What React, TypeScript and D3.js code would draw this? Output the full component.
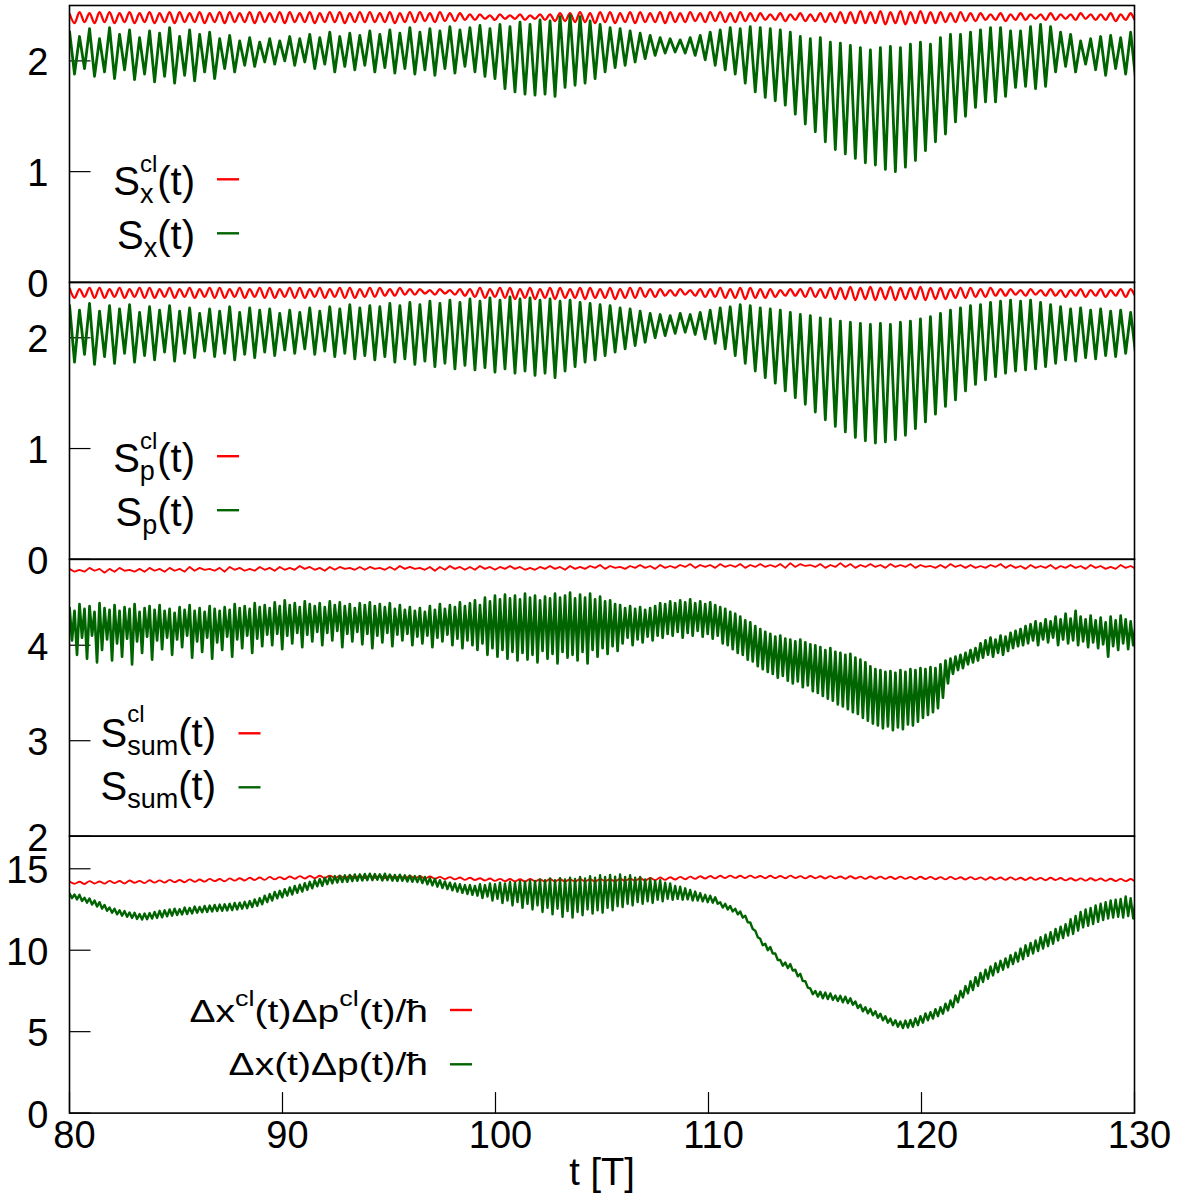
import React from "react";
import * as d3 from "d3";

// ---------------- data ----------------
const T_START = 80;
const PERIOD_SINGLE = 0.47; // oscillation period of S_x, S_p and the classical curves [T]
const PERIOD_DOUBLE = 0.235; // S_sum and Δx·Δp oscillate at twice that frequency

const xTicks = [80, 90, 100, 110, 120, 130];
const yTicksSx = [0, 1, 2];
const yTicksSp = [0, 1, 2];
const yTicksSum = [2, 3, 4];
const yTicksProd = [0, 5, 10, 15];

// Panel 1: S_x(t) maxima / minima of each oscillation
const sxPeaks = [
  2.27, 2.22, 2.29, 2.2, 2.3, 2.24, 2.28, 2.21, 2.27, 2.25,
  2.3, 2.22, 2.28, 2.24, 2.26, 2.2, 2.23, 2.18, 2.21, 2.17,
  2.2, 2.18, 2.22, 2.2, 2.24, 2.21, 2.26, 2.22, 2.25, 2.23,
  2.27, 2.24, 2.28, 2.25, 2.3, 2.26, 2.29, 2.27, 2.31, 2.28,
  2.3, 2.32, 2.29, 2.33, 2.31, 2.35, 2.33, 2.37, 2.36, 2.4,
  2.41, 2.4, 2.36, 2.33, 2.3, 2.29, 2.27, 2.25, 2.23, 2.21,
  2.2, 2.19, 2.21, 2.23, 2.26, 2.28, 2.3, 2.29, 2.31, 2.3,
  2.29, 2.28, 2.26, 2.22, 2.2, 2.21, 2.17, 2.16, 2.14, 2.12,
  2.1, 2.12, 2.13, 2.12, 2.15, 2.17, 2.15, 2.21, 2.24, 2.24,
  2.26, 2.28, 2.3, 2.3, 2.27, 2.27, 2.31, 2.33, 2.31, 2.26,
  2.24, 2.18, 2.2, 2.22, 2.23, 2.21, 2.26, 2.24,
];
const sxTroughs = [
  1.88, 1.93, 1.86, 1.9, 1.84, 1.92, 1.83, 1.88, 1.81, 1.86,
  1.8, 1.87, 1.82, 1.9, 1.84, 1.93, 1.9, 1.96, 1.95, 1.99,
  1.97, 2.0, 1.96, 1.99, 1.93, 1.97, 1.9, 1.95, 1.92, 1.96,
  1.9, 1.94, 1.89, 1.93, 1.88, 1.92, 1.87, 1.93, 1.89, 1.95,
  1.9, 1.86, 1.84, 1.75, 1.72, 1.7, 1.69, 1.7, 1.68, 1.76,
  1.78, 1.8, 1.84, 1.9, 1.94, 1.96, 1.99, 2.02, 2.05, 2.07,
  2.08, 2.07, 2.05, 2.01, 1.96, 1.92, 1.88, 1.8, 1.72, 1.67,
  1.64, 1.6, 1.52, 1.43, 1.36, 1.27, 1.2, 1.16, 1.12, 1.08,
  1.06, 1.02, 1.0, 1.04, 1.1, 1.19, 1.27, 1.34, 1.45, 1.5,
  1.58, 1.63, 1.63, 1.68, 1.76, 1.77, 1.75, 1.77, 1.9, 1.95,
  1.9, 1.97, 1.92, 1.87, 1.93, 1.88, 1.83, 1.86,
];
// Panel 1: S_x^cl(t)
const sxClPeaks = [
  2.43, 2.44, 2.43, 2.44, 2.44, 2.43, 2.44, 2.43, 2.44, 2.43,
  2.44, 2.44, 2.43, 2.44, 2.43, 2.44, 2.44, 2.43, 2.44, 2.44,
  2.43, 2.44, 2.44, 2.43, 2.44, 2.43, 2.44, 2.44, 2.43, 2.44,
  2.44, 2.43, 2.44, 2.43, 2.44, 2.44, 2.43, 2.44, 2.43, 2.43,
  2.42, 2.42, 2.41, 2.42, 2.41, 2.42, 2.41, 2.42, 2.42, 2.43,
  2.43, 2.44, 2.43, 2.44, 2.44, 2.43, 2.44, 2.44, 2.43, 2.44,
  2.44, 2.43, 2.44, 2.43, 2.44, 2.44, 2.43, 2.44, 2.43, 2.43,
  2.42, 2.43, 2.42, 2.43, 2.42, 2.43, 2.43, 2.44, 2.44, 2.45,
  2.44, 2.45, 2.44, 2.45, 2.44, 2.45, 2.44, 2.44, 2.43, 2.44,
  2.43, 2.43, 2.42, 2.43, 2.42, 2.43, 2.42, 2.42, 2.43, 2.42,
  2.42, 2.43, 2.42, 2.42, 2.43, 2.42, 2.43, 2.42,
];
const sxClTroughs = [
  2.34, 2.35, 2.34, 2.35, 2.34, 2.35, 2.34, 2.35, 2.34, 2.35,
  2.34, 2.35, 2.35, 2.34, 2.35, 2.34, 2.35, 2.35, 2.34, 2.35,
  2.35, 2.34, 2.35, 2.35, 2.34, 2.35, 2.35, 2.34, 2.35, 2.35,
  2.35, 2.35, 2.34, 2.35, 2.35, 2.36, 2.35, 2.36, 2.36, 2.37,
  2.37, 2.38, 2.37, 2.38, 2.38, 2.37, 2.38, 2.37, 2.36, 2.36,
  2.35, 2.35, 2.34, 2.35, 2.34, 2.35, 2.34, 2.35, 2.35, 2.34,
  2.35, 2.35, 2.36, 2.35, 2.36, 2.35, 2.35, 2.36, 2.36, 2.37,
  2.37, 2.36, 2.37, 2.36, 2.36, 2.35, 2.35, 2.34, 2.34, 2.34,
  2.34, 2.33, 2.34, 2.33, 2.34, 2.34, 2.34, 2.35, 2.35, 2.36,
  2.36, 2.37, 2.37, 2.36, 2.37, 2.37, 2.38, 2.37, 2.37, 2.38,
  2.37, 2.38, 2.37, 2.37, 2.36, 2.37, 2.36, 2.37,
];

// Panel 2: S_p(t)
const spPeaks = [
  2.3, 2.25, 2.31, 2.24, 2.29, 2.26, 2.3, 2.23, 2.28, 2.25,
  2.29, 2.24, 2.27, 2.22, 2.26, 2.24, 2.28, 2.23, 2.27, 2.25,
  2.26, 2.22, 2.25, 2.23, 2.27, 2.24, 2.28, 2.26, 2.3, 2.27,
  2.29, 2.28, 2.31, 2.29, 2.32, 2.3, 2.33, 2.31, 2.34, 2.32,
  2.35, 2.33, 2.36, 2.34, 2.37, 2.35, 2.36, 2.34, 2.35, 2.33,
  2.34, 2.32, 2.31, 2.3, 2.29, 2.27, 2.26, 2.24, 2.22, 2.21,
  2.2, 2.22, 2.21, 2.23, 2.25, 2.27, 2.28, 2.3, 2.29, 2.27,
  2.26, 2.25, 2.23, 2.21, 2.2, 2.18, 2.17, 2.15, 2.14, 2.13,
  2.12, 2.13, 2.12, 2.14, 2.15, 2.17, 2.19, 2.22, 2.25, 2.27,
  2.29, 2.3, 2.32, 2.33, 2.34, 2.33, 2.34, 2.32, 2.3, 2.28,
  2.26, 2.27, 2.25, 2.26, 2.24, 2.25, 2.23, 2.24,
];
const spTroughs = [
  1.78, 1.85, 1.76, 1.83, 1.77, 1.86, 1.78, 1.84, 1.8, 1.87,
  1.79, 1.86, 1.82, 1.88, 1.83, 1.86, 1.8, 1.85, 1.82, 1.87,
  1.84, 1.89, 1.86, 1.9, 1.85, 1.88, 1.83, 1.86, 1.81, 1.84,
  1.8, 1.83, 1.78, 1.81, 1.76, 1.79, 1.74, 1.77, 1.72, 1.75,
  1.71, 1.73, 1.69, 1.72, 1.68, 1.7, 1.66, 1.68, 1.64, 1.7,
  1.74, 1.78, 1.8, 1.84, 1.87, 1.9, 1.93, 1.96, 2.0, 2.02,
  2.04, 2.05, 2.03, 1.99, 1.95, 1.9, 1.84, 1.77, 1.7, 1.64,
  1.59, 1.52, 1.46, 1.4, 1.33, 1.26, 1.2, 1.15, 1.1, 1.07,
  1.05, 1.06, 1.08, 1.12, 1.18, 1.24, 1.31, 1.38, 1.44, 1.52,
  1.58, 1.62, 1.65, 1.68, 1.7, 1.71, 1.72, 1.74, 1.77, 1.8,
  1.79, 1.82, 1.81, 1.84, 1.83, 1.86, 1.85, 1.88,
];
// Panel 2: S_p^cl(t)
const spClPeaks = [
  2.45, 2.44, 2.45, 2.45, 2.44, 2.45, 2.44, 2.45, 2.45, 2.44,
  2.45, 2.44, 2.45, 2.44, 2.45, 2.45, 2.44, 2.45, 2.44, 2.45,
  2.45, 2.44, 2.45, 2.45, 2.44, 2.45, 2.44, 2.45, 2.45, 2.44,
  2.45, 2.45, 2.44, 2.45, 2.44, 2.44, 2.43, 2.44, 2.43, 2.44,
  2.44, 2.45, 2.44, 2.45, 2.45, 2.44, 2.45, 2.44, 2.45, 2.45,
  2.44, 2.45, 2.45, 2.44, 2.45, 2.44, 2.45, 2.45, 2.44, 2.44,
  2.43, 2.44, 2.43, 2.44, 2.44, 2.45, 2.44, 2.45, 2.45, 2.44,
  2.44, 2.43, 2.44, 2.44, 2.45, 2.44, 2.45, 2.45, 2.46, 2.45,
  2.46, 2.45, 2.46, 2.45, 2.45, 2.46, 2.45, 2.45, 2.44, 2.45,
  2.45, 2.44, 2.45, 2.44, 2.44, 2.43, 2.44, 2.43, 2.44, 2.43,
  2.43, 2.44, 2.43, 2.44, 2.43, 2.44, 2.44, 2.43,
];
const spClTroughs = [
  2.36, 2.37, 2.36, 2.36, 2.37, 2.36, 2.37, 2.36, 2.36, 2.37,
  2.36, 2.37, 2.36, 2.37, 2.36, 2.36, 2.37, 2.36, 2.37, 2.36,
  2.36, 2.37, 2.36, 2.36, 2.37, 2.36, 2.37, 2.36, 2.36, 2.37,
  2.37, 2.38, 2.38, 2.39, 2.39, 2.4, 2.39, 2.4, 2.39, 2.38,
  2.37, 2.36, 2.37, 2.36, 2.35, 2.36, 2.35, 2.36, 2.35, 2.36,
  2.36, 2.35, 2.36, 2.36, 2.35, 2.36, 2.36, 2.37, 2.37, 2.38,
  2.38, 2.39, 2.38, 2.37, 2.37, 2.36, 2.36, 2.35, 2.36, 2.36,
  2.37, 2.38, 2.38, 2.37, 2.37, 2.36, 2.35, 2.35, 2.34, 2.35,
  2.34, 2.35, 2.34, 2.35, 2.35, 2.34, 2.35, 2.35, 2.36, 2.36,
  2.37, 2.37, 2.38, 2.38, 2.39, 2.38, 2.39, 2.38, 2.38, 2.37,
  2.38, 2.37, 2.38, 2.37, 2.38, 2.37, 2.38, 2.37,
];

// Panel 3: S_sum(t) (double-frequency sampling)
const sumPeaks = [
  4.4, 4.36, 4.43, 4.38, 4.41, 4.35, 4.44, 4.39, 4.37, 4.42,
  4.36, 4.4, 4.38, 4.43, 4.35, 4.39, 4.41, 4.37, 4.42, 4.36,
  4.38, 4.34, 4.4, 4.37, 4.42, 4.36, 4.39, 4.35, 4.41, 4.38,
  4.36, 4.4, 4.37, 4.43, 4.39, 4.41, 4.38, 4.44, 4.4, 4.42,
  4.39, 4.45, 4.41, 4.47, 4.42, 4.44, 4.4, 4.46, 4.43, 4.41,
  4.44, 4.4, 4.46, 4.42, 4.45, 4.41, 4.43, 4.39, 4.44, 4.42,
  4.45, 4.41, 4.43, 4.4, 4.44, 4.38, 4.42, 4.37, 4.4, 4.36,
  4.39, 4.35, 4.41, 4.37, 4.43, 4.38, 4.42, 4.4, 4.45, 4.41,
  4.44, 4.47, 4.42, 4.5, 4.46, 4.52, 4.48, 4.53, 4.49, 4.52,
  4.48, 4.54, 4.5, 4.52, 4.47, 4.51, 4.49, 4.54, 4.5, 4.52,
  4.55, 4.49, 4.53, 4.5, 4.54, 4.48, 4.51, 4.46, 4.47, 4.43,
  4.42, 4.39, 4.41, 4.38, 4.4, 4.37, 4.39, 4.41, 4.44, 4.43,
  4.46, 4.44, 4.47, 4.45, 4.48, 4.44, 4.46, 4.43, 4.45, 4.42,
  4.4, 4.38, 4.35, 4.33, 4.3, 4.26, 4.24, 4.2, 4.17, 4.14,
  4.12, 4.09, 4.1, 4.07, 4.06, 4.04, 4.06, 4.03, 4.01, 4.0,
  3.98, 3.95, 3.97, 3.93, 3.92, 3.9, 3.91, 3.87, 3.85, 3.82,
  3.78, 3.75, 3.74, 3.72, 3.73, 3.71, 3.74, 3.72, 3.75, 3.74,
  3.76, 3.75, 3.77, 3.76, 3.8, 3.84, 3.86, 3.88, 3.9, 3.92,
  3.95, 3.97, 4.02, 4.05, 4.08, 4.06, 4.1, 4.09, 4.13, 4.15,
  4.17, 4.2, 4.22, 4.25, 4.23, 4.27, 4.25, 4.3, 4.27, 4.33,
  4.28, 4.36, 4.3, 4.27, 4.31, 4.26, 4.29, 4.24, 4.3, 4.26,
  4.31, 4.27, 4.25, 4.22,
];
const sumTroughs = [
  4.05, 3.9, 4.08, 3.86, 4.1, 3.82, 3.95, 4.06, 3.84, 4.02,
  3.88, 4.07, 3.8, 4.04, 3.92, 4.09, 3.85, 4.05, 3.96, 4.08,
  3.9, 4.06, 3.98, 4.1, 3.87, 4.04, 3.93, 4.08, 3.86, 4.03,
  3.95, 4.09, 3.88, 4.06, 3.97, 4.1, 3.92, 4.07, 3.99, 4.11,
  4.0, 4.12, 3.96, 4.1, 4.02, 4.13, 3.98, 4.11, 4.04, 4.14,
  4.0, 4.13, 4.05, 4.15, 3.98, 4.12, 4.04, 4.14, 4.01, 4.12,
  3.97, 4.1, 4.03, 4.13, 3.99, 4.11, 4.05, 4.12, 4.0, 4.09,
  4.02, 4.1, 3.98, 4.08, 4.04, 4.11, 4.0, 4.07, 3.97, 4.05,
  4.0, 3.95, 4.02, 3.9, 3.97, 3.88, 3.95, 3.86, 3.93, 3.84,
  3.92, 3.85, 3.9, 3.82, 3.94, 3.86, 3.91, 3.81, 3.93, 3.87,
  3.9, 3.84, 3.93, 3.81, 3.95, 3.88, 3.97, 3.91, 3.99, 3.94,
  4.02, 4.08, 4.0, 4.06, 4.03, 4.09, 4.05, 4.1, 4.08, 4.12,
  4.1, 4.14, 4.08, 4.13, 4.1, 4.15, 4.09, 4.12, 4.07, 4.1,
  4.02, 4.0, 3.96, 3.92, 3.9, 3.85, 3.83, 3.78, 3.75, 3.72,
  3.7, 3.66, 3.68, 3.63, 3.6, 3.62, 3.56, 3.58, 3.52, 3.5,
  3.47, 3.44, 3.42, 3.38, 3.36, 3.33, 3.3, 3.28, 3.24, 3.21,
  3.18, 3.16, 3.13, 3.15, 3.11, 3.14, 3.12, 3.17, 3.16, 3.2,
  3.24, 3.27, 3.3, 3.34, 3.45, 3.6, 3.7, 3.74, 3.76, 3.8,
  3.82, 3.84, 3.87, 3.9, 3.88, 3.92, 3.9, 3.94, 3.97, 3.99,
  4.0, 4.02, 4.05, 4.0, 4.06, 4.03, 4.08, 4.0, 4.06, 4.02,
  4.05, 4.0, 4.04, 3.98, 4.03, 3.97, 4.01, 3.88, 3.99, 3.95,
  4.02, 3.96, 4.0, 4.05,
];
// Panel 3: S_sum^cl(t)
const sumClPeaks = [
  4.8, 4.79, 4.81, 4.8, 4.8, 4.81, 4.79, 4.8, 4.81, 4.8,
  4.81, 4.8, 4.82, 4.81, 4.8, 4.81, 4.82, 4.81, 4.8, 4.82,
  4.81, 4.82, 4.81, 4.83, 4.82, 4.81, 4.82, 4.82, 4.81, 4.82,
  4.82, 4.81, 4.82, 4.83, 4.82, 4.81, 4.82, 4.82, 4.83, 4.82,
  4.82, 4.83, 4.82, 4.82, 4.83, 4.82, 4.81, 4.82, 4.83, 4.82,
  4.83, 4.82, 4.83, 4.84, 4.83, 4.82, 4.83, 4.84, 4.83, 4.84,
  4.83, 4.84, 4.85, 4.84, 4.84, 4.85, 4.84, 4.85, 4.84, 4.85,
  4.84, 4.85, 4.86, 4.85, 4.84, 4.85, 4.84, 4.86, 4.85, 4.84,
  4.85, 4.84, 4.85, 4.84, 4.85, 4.84, 4.83, 4.84, 4.85, 4.84,
  4.84, 4.83, 4.84, 4.85, 4.84, 4.83, 4.84, 4.83, 4.84, 4.83,
  4.84, 4.83, 4.84, 4.83, 4.82, 4.84, 4.83, 4.82,
];
const sumClTroughs = [
  4.77, 4.77, 4.78, 4.76, 4.77, 4.78, 4.77, 4.77, 4.78, 4.77,
  4.78, 4.77, 4.78, 4.79, 4.78, 4.77, 4.79, 4.78, 4.78, 4.79,
  4.78, 4.79, 4.79, 4.8, 4.79, 4.78, 4.79, 4.8, 4.79, 4.79,
  4.8, 4.79, 4.79, 4.8, 4.8, 4.79, 4.78, 4.79, 4.8, 4.79,
  4.79, 4.8, 4.79, 4.8, 4.8, 4.79, 4.79, 4.8, 4.8, 4.79,
  4.8, 4.8, 4.81, 4.8, 4.81, 4.8, 4.81, 4.81, 4.8, 4.81,
  4.81, 4.82, 4.81, 4.82, 4.81, 4.82, 4.82, 4.81, 4.82, 4.82,
  4.82, 4.81, 4.82, 4.83, 4.82, 4.81, 4.82, 4.82, 4.81, 4.82,
  4.82, 4.81, 4.82, 4.82, 4.81, 4.82, 4.81, 4.81, 4.82, 4.81,
  4.81, 4.81, 4.82, 4.81, 4.81, 4.8, 4.81, 4.81, 4.8, 4.81,
  4.81, 4.8, 4.81, 4.8, 4.8, 4.81, 4.8, 4.79,
];

// Panel 4: Δx(t)Δp(t)/ħ (double-frequency sampling)
const prodPeaks = [
  13.5, 13.42, 13.4, 13.22, 13.18, 13.05, 12.95, 12.78, 12.62, 12.55,
  12.45, 12.4, 12.32, 12.3, 12.22, 12.25, 12.28, 12.35, 12.42, 12.45,
  12.5, 12.55, 12.52, 12.62, 12.6, 12.68, 12.66, 12.72, 12.74, 12.78,
  12.8, 12.82, 12.85, 12.9, 12.92, 12.97, 13.02, 13.12, 13.2, 13.35,
  13.45, 13.58, 13.65, 13.75, 13.85, 13.95, 14.02, 14.12, 14.2, 14.3,
  14.38, 14.45, 14.52, 14.55, 14.58, 14.6, 14.62, 14.65, 14.66, 14.68,
  14.7, 14.68, 14.66, 14.7, 14.65, 14.62, 14.64, 14.6, 14.58, 14.55,
  14.55, 14.5, 14.42, 14.38, 14.3, 14.22, 14.15, 14.1, 14.05, 14.0,
  14.0, 13.95, 14.05, 14.0, 14.1, 14.05, 14.15, 14.1, 14.2, 14.15,
  14.25, 14.2, 14.3, 14.25, 14.35, 14.3, 14.4, 14.3, 14.42, 14.35,
  14.45, 14.38, 14.5, 14.4, 14.55, 14.45, 14.6, 14.5, 14.62, 14.52,
  14.65, 14.5, 14.6, 14.45, 14.5, 14.35, 14.4, 14.25, 14.3, 14.15,
  14.1, 13.95, 13.9, 13.8, 13.7, 13.6, 13.5, 13.4, 13.35, 13.25,
  12.95, 12.85, 12.72, 12.55, 12.38, 12.12, 11.7, 11.2, 10.7, 10.4,
  10.2, 9.8, 9.4, 9.25, 9.15, 8.8, 8.55, 8.1, 7.65, 7.5,
  7.45, 7.4, 7.35, 7.22, 7.2, 7.15, 7.05, 6.85, 6.65, 6.5,
  6.4, 6.25, 6.1, 5.95, 5.8, 5.7, 5.62, 5.68, 5.72, 5.82,
  5.95, 6.12, 6.2, 6.38, 6.5, 6.72, 6.92, 7.22, 7.5, 7.8,
  8.1, 8.35, 8.6, 8.8, 9.0, 9.2, 9.35, 9.5, 9.7, 9.85,
  10.1, 10.3, 10.45, 10.6, 10.8, 10.95, 11.1, 11.3, 11.45, 11.6,
  11.9, 12.1, 12.35, 12.5, 12.6, 12.75, 12.85, 12.95, 13.05, 13.1,
  13.15, 13.3, 13.2, 13.1,
];
const prodTroughs = [
  13.2, 13.12, 13.02, 12.92, 12.8, 12.68, 12.55, 12.42, 12.3, 12.2,
  12.12, 12.05, 11.98, 11.92, 11.88, 11.9, 11.94, 11.98, 12.02, 12.08,
  12.12, 12.16, 12.2, 12.22, 12.26, 12.3, 12.33, 12.35, 12.38, 12.4,
  12.42, 12.44, 12.46, 12.5, 12.55, 12.58, 12.65, 12.72, 12.82, 12.95,
  13.05, 13.18, 13.25, 13.35, 13.42, 13.52, 13.6, 13.7, 13.8, 13.92,
  13.95, 14.05, 14.1, 14.15, 14.18, 14.2, 14.24, 14.26, 14.28, 14.3,
  14.3, 14.32, 14.28, 14.3, 14.27, 14.25, 14.26, 14.22, 14.2, 14.18,
  14.12, 14.05, 13.98, 13.9, 13.82, 13.75, 13.68, 13.6, 13.52, 13.45,
  13.4, 13.35, 13.2, 13.3, 13.05, 13.15, 12.9, 13.05, 12.75, 12.95,
  12.6, 12.85, 12.5, 12.75, 12.35, 12.6, 12.2, 12.55, 12.05, 12.4,
  12.0, 12.35, 12.15, 12.5, 12.25, 12.45, 12.3, 12.6, 12.45, 12.7,
  12.65, 12.85, 12.75, 12.95, 12.85, 13.0, 12.9, 13.1, 13.0, 13.15,
  13.1, 13.15, 13.1, 13.12, 13.05, 13.05, 13.0, 12.95, 12.92, 12.85,
  12.62, 12.5, 12.38, 12.2, 12.0, 11.72, 11.3, 10.8, 10.3, 10.0,
  9.8, 9.4, 9.05, 8.9, 8.75, 8.4, 8.1, 7.7, 7.3, 7.15,
  7.05, 7.0, 6.95, 6.88, 6.8, 6.75, 6.65, 6.45, 6.25, 6.12,
  6.0, 5.85, 5.7, 5.55, 5.4, 5.3, 5.22, 5.25, 5.3, 5.4,
  5.55, 5.7, 5.8, 5.95, 6.1, 6.3, 6.5, 6.8, 7.1, 7.35,
  7.55, 7.8, 8.05, 8.25, 8.45, 8.65, 8.8, 8.95, 9.15, 9.3,
  9.45, 9.65, 9.8, 9.95, 10.1, 10.25, 10.4, 10.6, 10.75, 10.9,
  11.0, 11.2, 11.4, 11.5, 11.6, 11.75, 11.85, 11.95, 12.0, 12.05,
  12.0, 12.1, 11.95, 12.0,
];
// Panel 4: Δx^cl(t)Δp^cl(t)/ħ
const prodClPeaks = [
  14.22, 14.2, 14.24, 14.22, 14.26, 14.25, 14.28, 14.26, 14.3, 14.29,
  14.32, 14.31, 14.35, 14.34, 14.38, 14.37, 14.41, 14.42, 14.45, 14.46,
  14.5, 14.49, 14.53, 14.55, 14.56, 14.57, 14.58, 14.56, 14.58, 14.57,
  14.58, 14.56, 14.57, 14.55, 14.56, 14.54, 14.53, 14.5, 14.49, 14.46,
  14.45, 14.42, 14.4, 14.38, 14.37, 14.36, 14.38, 14.35, 14.37, 14.36,
  14.35, 14.37, 14.36, 14.38, 14.36, 14.39, 14.4, 14.42, 14.44, 14.46,
  14.48, 14.5, 14.52, 14.54, 14.56, 14.57, 14.58, 14.57, 14.58, 14.56,
  14.57, 14.56, 14.58, 14.55, 14.56, 14.54, 14.55, 14.53, 14.54, 14.52,
  14.53, 14.52, 14.51, 14.52, 14.5, 14.51, 14.5, 14.49, 14.5, 14.48,
  14.49, 14.47, 14.48, 14.46, 14.47, 14.45, 14.46, 14.44, 14.45, 14.43,
  14.42, 14.41, 14.42, 14.4, 14.39, 14.38, 14.37, 14.36,
];
const prodClTroughs = [
  14.08, 14.07, 14.1, 14.09, 14.12, 14.1, 14.14, 14.12, 14.15, 14.15,
  14.18, 14.17, 14.2, 14.21, 14.24, 14.23, 14.27, 14.28, 14.31, 14.32,
  14.35, 14.36, 14.39, 14.4, 14.42, 14.43, 14.43, 14.42, 14.44, 14.43,
  14.44, 14.42, 14.43, 14.41, 14.42, 14.4, 14.39, 14.37, 14.35, 14.32,
  14.31, 14.28, 14.26, 14.24, 14.23, 14.22, 14.23, 14.21, 14.23, 14.22,
  14.21, 14.23, 14.22, 14.24, 14.22, 14.25, 14.26, 14.28, 14.3, 14.32,
  14.34, 14.36, 14.38, 14.4, 14.41, 14.43, 14.44, 14.43, 14.44, 14.42,
  14.43, 14.42, 14.43, 14.41, 14.42, 14.4, 14.41, 14.39, 14.4, 14.38,
  14.39, 14.38, 14.37, 14.38, 14.36, 14.37, 14.36, 14.35, 14.36, 14.34,
  14.35, 14.33, 14.34, 14.32, 14.33, 14.31, 14.32, 14.3, 14.31, 14.29,
  14.28, 14.27, 14.28, 14.26, 14.25, 14.24, 14.23, 14.22,
];

// ---------------- layout ----------------
const W = 1182;
const H = 1195;
const LEFT = 69.5;
const RIGHT = 1134.5;
const TOP0 = 5.5;
const PANEL_H = 276.9;
const FONT = "'Liberation Sans', Arial, Helvetica, sans-serif";
const RED = "#ff0000";
const GREEN = "#006400";

type Pt = [number, number];
function toPoints(peaks: number[], troughs: number[], period: number): Pt[] {
  const pts: Pt[] = [];
  for (let k = 0; k < peaks.length; k++) {
    pts.push([T_START + k * period, peaks[k]]);
    if (k < troughs.length) pts.push([T_START + (k + 0.5) * period, troughs[k]]);
  }
  return pts;
}

type SeriesDef = {
  peaks: number[];
  troughs: number[];
  period: number;
  color: string;
  width: number;
  smooth: boolean;
};

const panels: {
  domain: [number, number];
  ticks: number[];
  series: SeriesDef[];
  legend: number;
}[] = [
  {
    domain: [0, 2.5],
    ticks: yTicksSx,
    series: [
      { peaks: sxClPeaks, troughs: sxClTroughs, period: PERIOD_SINGLE, color: RED, width: 2.3, smooth: true },
      { peaks: sxPeaks, troughs: sxTroughs, period: PERIOD_SINGLE, color: GREEN, width: 2.8, smooth: false },
    ],
    legend: 0,
  },
  {
    domain: [0, 2.5],
    ticks: yTicksSp,
    series: [
      { peaks: spClPeaks, troughs: spClTroughs, period: PERIOD_SINGLE, color: RED, width: 2.3, smooth: true },
      { peaks: spPeaks, troughs: spTroughs, period: PERIOD_SINGLE, color: GREEN, width: 2.8, smooth: false },
    ],
    legend: 1,
  },
  {
    domain: [2, 4.9],
    ticks: yTicksSum,
    series: [
      { peaks: sumClPeaks, troughs: sumClTroughs, period: PERIOD_SINGLE, color: RED, width: 1.8, smooth: false },
      { peaks: sumPeaks, troughs: sumTroughs, period: PERIOD_DOUBLE, color: GREEN, width: 2.7, smooth: false },
    ],
    legend: 2,
  },
  {
    domain: [0, 17],
    ticks: yTicksProd,
    series: [
      { peaks: prodClPeaks, troughs: prodClTroughs, period: PERIOD_SINGLE, color: RED, width: 1.9, smooth: true },
      { peaks: prodPeaks, troughs: prodTroughs, period: PERIOD_DOUBLE, color: GREEN, width: 2.4, smooth: false },
    ],
    legend: 3,
  },
];

function Legend({ idx, top }: { idx: number; top: number }) {
  const sample = (x0: number, y: number, color: string) => (
    <line x1={x0} x2={x0 + 22} y1={y} y2={y} stroke={color} strokeWidth={2.4} />
  );
  if (idx === 0 || idx === 1) {
    const sub = idx === 0 ? "x" : "p";
    const subW = idx === 0 ? 13.5 : 15;
    return (
      <g fontFamily={FONT} fill="#000">
        <text x={195} y={top + 189.5} fontSize={40} textAnchor="end">
          <tspan>S</tspan>
          <tspan fontSize={27} dy={8}>{sub}</tspan>
          <tspan fontSize={24} dx={-subW} dy={-31}>cl</tspan>
          <tspan dy={23}>(t)</tspan>
        </text>
        <text x={195} y={top + 243.8} fontSize={40} textAnchor="end">
          <tspan>S</tspan>
          <tspan fontSize={27} dy={8}>{sub}</tspan>
          <tspan dy={-8}>(t)</tspan>
        </text>
        {sample(217, top + 173.8, RED)}
        {sample(217, top + 227.8, GREEN)}
      </g>
    );
  }
  if (idx === 2) {
    return (
      <g fontFamily={FONT} fill="#000">
        <text x={216} y={top + 187.4} fontSize={40} textAnchor="end">
          <tspan>S</tspan>
          <tspan fontSize={27} dy={8}>sum</tspan>
          <tspan fontSize={24} dx={-51} dy={-33}>cl</tspan>
          <tspan dx={33.7} dy={25}>(t)</tspan>
        </text>
        <text x={216} y={top + 240.7} fontSize={40} textAnchor="end">
          <tspan>S</tspan>
          <tspan fontSize={27} dy={8}>sum</tspan>
          <tspan dy={-8}>(t)</tspan>
        </text>
        {sample(238.5, top + 174, RED)}
        {sample(238.5, top + 228, GREEN)}
      </g>
    );
  }
  return (
    <g fontFamily={FONT} fill="#000">
      <g transform={`translate(428,${top + 185.5}) scale(1,0.82)`}>
        <text x={0} y={0} fontSize={39} textAnchor="end">
          <tspan>Δx</tspan>
          <tspan fontSize={27} dy={-19}>cl</tspan>
          <tspan dy={19}>(t)Δp</tspan>
          <tspan fontSize={27} dy={-19}>cl</tspan>
          <tspan dy={19}>(t)/ħ</tspan>
        </text>
      </g>
      <g transform={`translate(428,${top + 238.8}) scale(1,0.82)`}>
        <text x={0} y={0} fontSize={39} textAnchor="end">
          Δx(t)Δp(t)/ħ
        </text>
      </g>
      {sample(450, top + 173.8, RED)}
      {sample(450, top + 228.1, GREEN)}
    </g>
  );
}

export default function App() {
  const x = d3.scaleLinear().domain([80, 130]).range([LEFT, RIGHT]);
  return (
    <svg
      width={W}
      height={H}
      style={{ position: "absolute", left: 0, top: 0, background: "#fff" }}
      fontFamily={FONT}
    >
      <rect x={0} y={0} width={W} height={H} fill="#fff" />
      {panels.map((p, i) => {
        const top = TOP0 + i * PANEL_H;
        const bottom = top + PANEL_H;
        const y = d3.scaleLinear().domain(p.domain).range([bottom, top]);
        const clipId = `clip${i}`;
        return (
          <g key={i}>
            <defs>
              <clipPath id={clipId}>
                <rect x={LEFT} y={top} width={RIGHT - LEFT} height={PANEL_H} />
              </clipPath>
            </defs>
            {p.ticks.map((t) => (
              <g key={t}>
                <line x1={LEFT} x2={LEFT + 21} y1={y(t)} y2={y(t)} stroke="#000" strokeWidth={1.2} />
                <text x={48.5} y={y(t) + 14.5} fontSize={38} textAnchor="end" fill="#000">
                  {t}
                </text>
              </g>
            ))}
            <g clipPath={`url(#${clipId})`}>
              {p.series.map((s, j) => {
                const gen = d3
                  .line<Pt>()
                  .x((d) => x(d[0]))
                  .y((d) => y(d[1]))
                  .curve(s.smooth ? d3.curveMonotoneX : d3.curveLinear);
                return (
                  <path
                    key={j}
                    d={gen(toPoints(s.peaks, s.troughs, s.period)) || ""}
                    fill="none"
                    stroke={s.color}
                    strokeWidth={s.width}
                    strokeLinejoin="round"
                  />
                );
              })}
            </g>
            <Legend idx={p.legend} top={top} />
            <rect x={LEFT} y={top} width={RIGHT - LEFT} height={PANEL_H} fill="none" stroke="#000" strokeWidth={1.6} />
          </g>
        );
      })}
      {xTicks.map((t) => (
        <g key={t}>
          <line
            x1={x(t)}
            x2={x(t)}
            y1={TOP0 + 4 * PANEL_H}
            y2={TOP0 + 4 * PANEL_H - 21}
            stroke="#000"
            strokeWidth={1.2}
          />
          <text x={x(t) + 5} y={1148} fontSize={38} textAnchor="middle" fill="#000">
            {t}
          </text>
        </g>
      ))}
      <text x={602} y={1185} fontSize={38} textAnchor="middle" fill="#000">
        t [T]
      </text>
    </svg>
  );
}
